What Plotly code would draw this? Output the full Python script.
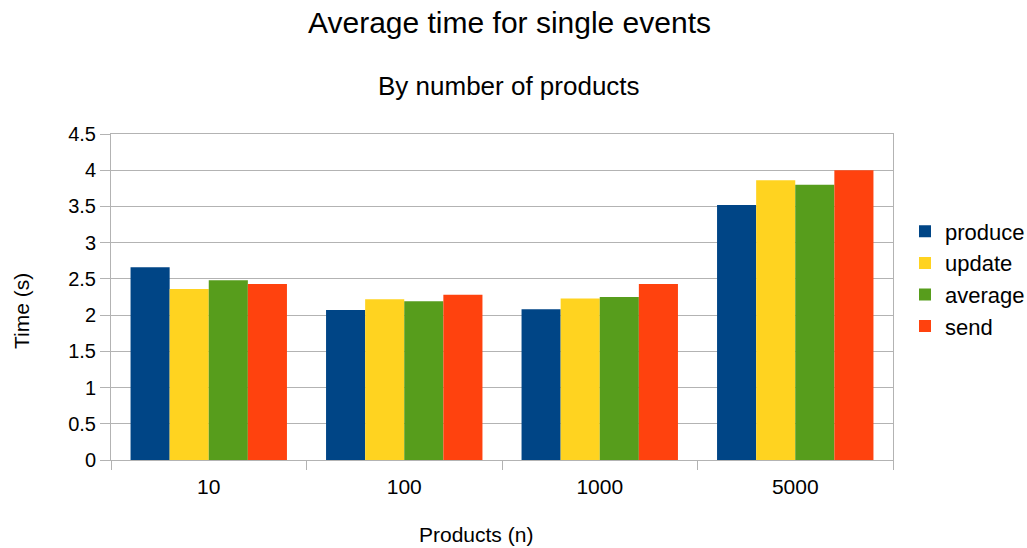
import plotly.graph_objects as go

categories = ["10", "100", "1000", "5000"]
produce = [2.66, 2.07, 2.08, 3.52]
update = [2.36, 2.22, 2.23, 3.86]
average = [2.48, 2.19, 2.25, 3.80]
send = [2.43, 2.28, 2.43, 4.00]

series = [
    ("produce", produce, "#004586"),
    ("update", update, "#ffd320"),
    ("average", average, "#579d1c"),
    ("send", send, "#ff420e"),
]

FONT = "Liberation Sans, Arial, sans-serif"
GRID = "#b3b3b3"
W, H = 1027, 548
ML, MR, MT, MB = 111, 134, 134, 88
PW, PH = W - ML - MR, H - MT - MB


def px(x):
    return (x - ML) / PW


def py(y):
    return (H - MB - y) / PH


fig = go.Figure()
for name, vals, color in series:
    fig.add_trace(go.Bar(
        x=categories, y=vals, name=name, legendgroup=name,
        marker=dict(color=color, line=dict(width=0)),
    ))

text_annotations = [
    dict(text="Average time for single events", x=px(509), y=py(22), font=dict(size=30)),
    dict(text="By number of products", x=px(509), y=py(86), font=dict(size=26)),
    dict(text="Products (n)", x=px(476), y=py(534), font=dict(size=21)),
    dict(text="Time (s)", x=px(21), y=py(311), font=dict(size=21), textangle=-90),
]
for a in text_annotations:
    a.update(xref="paper", yref="paper", showarrow=False,
             xanchor="center", yanchor="middle")

fig.update_layout(
    width=W, height=H,
    margin=dict(l=ML, r=MR, t=MT, b=MB, autoexpand=False),
    paper_bgcolor="white", plot_bgcolor="white",
    barmode="group", bargap=0.2, bargroupgap=0,
    font=dict(family=FONT, size=21, color="#000000"),
    showlegend=True,
    legend=dict(
        x=px(905), y=py(279), xanchor="left", yanchor="middle",
        font=dict(size=22), tracegroupgap=0,
    ),
    annotations=text_annotations,
)

fig.update_xaxes(
    type="category",
    showline=True, linecolor=GRID, linewidth=1, mirror=True,
    ticks="outside", tickson="boundaries", ticklen=9, tickcolor=GRID,
    showgrid=False,
    ticklabelstandoff=8,
    tickfont=dict(size=21),
)
fig.update_yaxes(
    range=[0, 4.5], dtick=0.5,
    showline=True, linecolor=GRID, linewidth=1, mirror=True,
    ticks="outside", ticklen=10, tickcolor=GRID,
    showgrid=True, gridcolor=GRID, gridwidth=1,
    zeroline=False,
    tickfont=dict(size=20),
)

fig.write_html("out.html")
